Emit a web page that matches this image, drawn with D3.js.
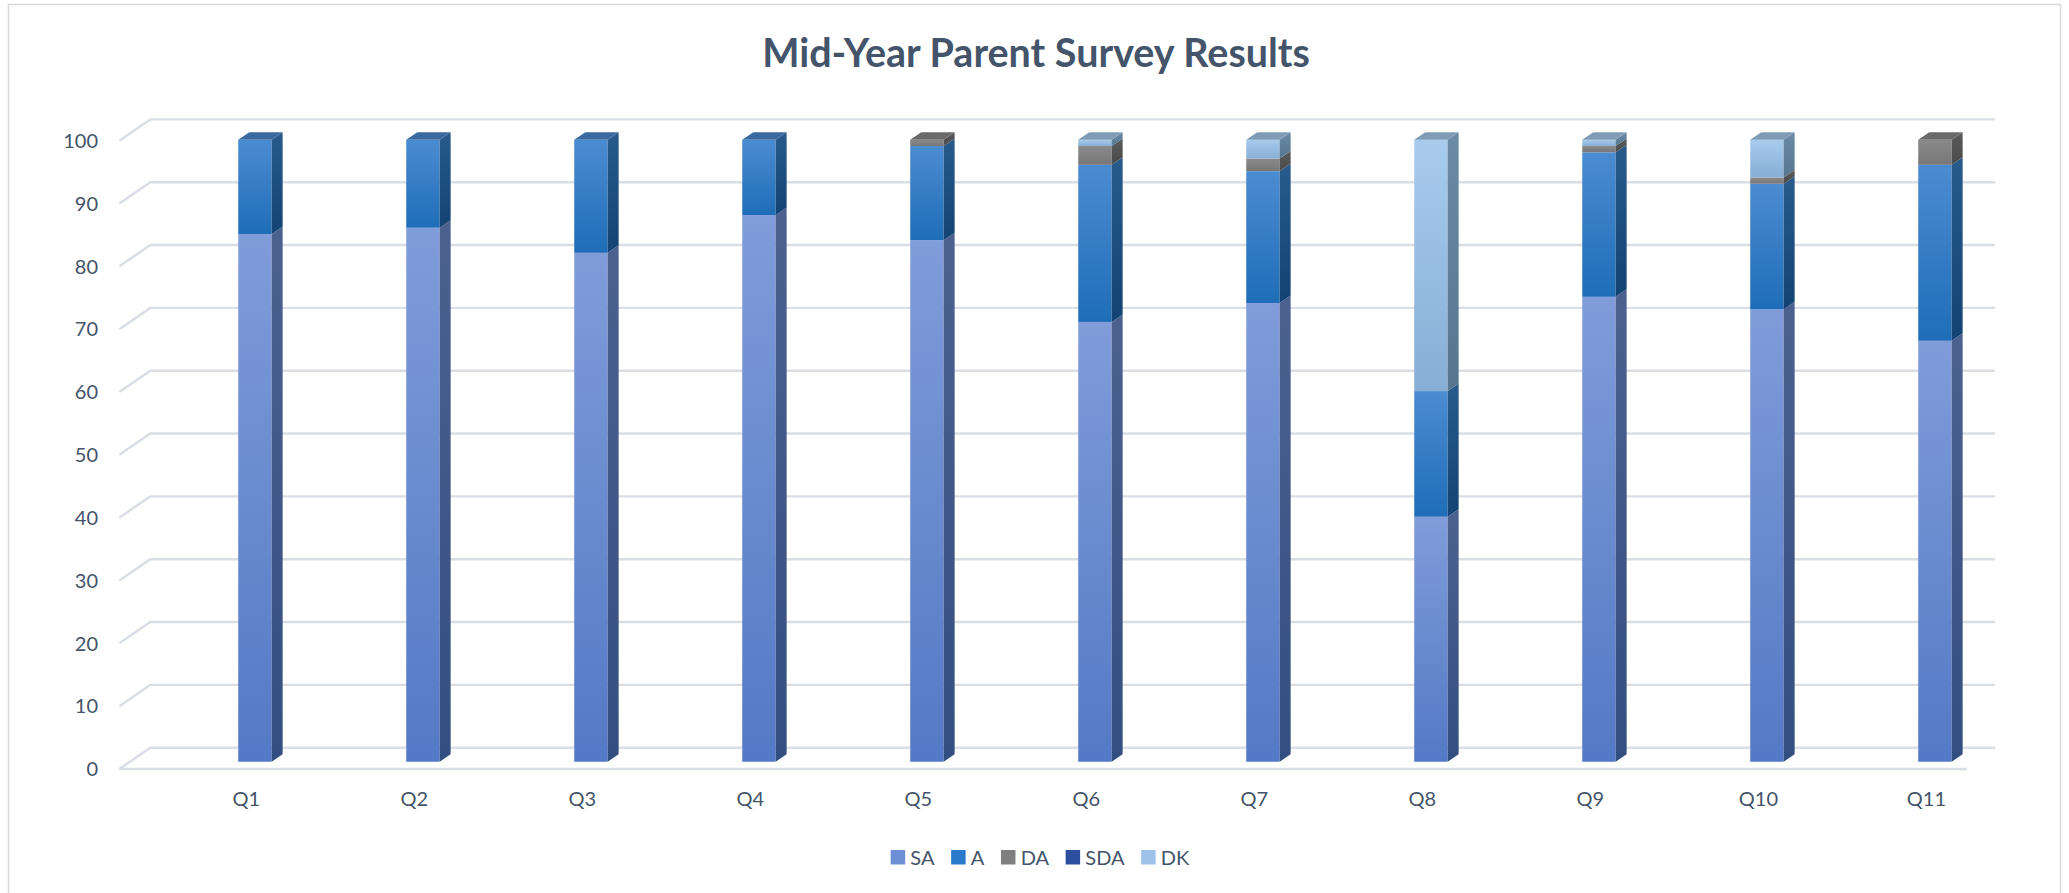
<!DOCTYPE html>
<html>
<head>
<meta charset="utf-8">
<script src="https://cdn.jsdelivr.net/npm/d3@7"></script>
<style>
  html, body { margin: 0; padding: 0; background: #ffffff; }
  svg { display: block; }
  text { font-family: "Lato", "Open Sans", "Liberation Sans", sans-serif; }
</style>
</head>
<body>
<svg id="chart" width="2069" height="893"></svg>
<script>
// ---------------- data ----------------
const categories = ["Q1","Q2","Q3","Q4","Q5","Q6","Q7","Q8","Q9","Q10","Q11"];
const seriesKeys = ["SA","A","DA","SDA","DK"];
const valuesSA  = [84, 85, 81, 87, 83, 70, 73, 39, 74, 72, 67];
const valuesA   = [15, 14, 18, 12, 15, 25, 21, 20, 23, 20, 28];
const valuesDA  = [ 0,  0,  0,  0,  1,  3,  2,  0,  1,  1,  4];
const valuesSDA = [ 0,  0,  0,  0,  0,  0,  0,  0,  0,  0,  0];
const valuesDK  = [ 0,  0,  0,  0,  0,  1,  3, 40,  1,  6,  0];
const yTicks = [0,10,20,30,40,50,60,70,80,90,100];
const titleText = "Mid-Year Parent Survey Results";

// table built from the arrays
const table = categories.map((c, i) => ({
  cat: c, SA: valuesSA[i], A: valuesA[i], DA: valuesDA[i], SDA: valuesSDA[i], DK: valuesDK[i]
}));

// ---------------- styles ----------------
const style = {
  SA:  { front: ["#809cd9", "#5479c6"], side: ["#4c6190", "#334e80"], top: "#5c74a8", legend: "#6d8fd6" },
  A:   { front: ["#4b8cd2", "#1f6db8"], side: ["#285a8c", "#124373"], top: "#3a6aa0", legend: "#2a7acc" },
  DA:  { front: ["#8a8a8a", "#777777"], side: ["#5a5a5a", "#4a4a4a"], top: "#6a6a6a", legend: "#7f7f7f" },
  SDA: { front: ["#3558a8", "#264590"], side: ["#1f3466", "#172a55"], top: "#2a4680", legend: "#2d4f9f" },
  DK:  { front: ["#a8cbed", "#88aed6"], side: ["#6b8aa6", "#56758f"], top: "#7f9bb5", legend: "#9fc3e8" }
};
const textColor = "#44546a";
const gridColor = "#d9dde4";

// ---------------- layout ----------------
const plotLeft = 119.3, plotRight = 1967;      // front floor edge
const depth = { dx: 31, dy: -21.3 };            // full depth vector of the 3D box
const barFront = 0.34, barDepth = 0.355;        // bar position in depth fractions
const barWidth = 33.4;

const svg = d3.select("#chart");
const defs = svg.append("defs");

const y = d3.scaleLinear().domain([0, 100]).range([769, 140.7]);
const x = d3.scaleBand().domain(categories).range([160.4, 2008.4]).padding(0);

// gradients
seriesKeys.forEach(k => {
  ["front", "side"].forEach(face => {
    const g = defs.append("linearGradient").attr("id", `g-${k}-${face}`)
      .attr("x1", 0).attr("y1", 0).attr("x2", 0).attr("y2", 1);
    g.append("stop").attr("offset", "0%").attr("stop-color", style[k][face][0]);
    g.append("stop").attr("offset", "100%").attr("stop-color", style[k][face][1]);
  });
});

// chart border
svg.append("rect").attr("x", 8.5).attr("y", 4.5).attr("width", 2052).attr("height", 905)
  .attr("fill", "none").attr("stroke", "#d9d9d9").attr("stroke-width", 1.5);

// title
const title = svg.append("text").attr("x", 1036).attr("y", 66.7)
  .attr("text-anchor", "middle").attr("fill", textColor)
  .attr("font-weight", 700).attr("font-size", 36).text(titleText);
(function fit() {
  const target = 548;
  const w = title.node().getComputedTextLength();
  if (w > 0) title.attr("font-size", 36 * target / w);
})();

// gridlines (walls of the 3D box)
const grid = svg.append("g");
yTicks.forEach(v => {
  const yf = y(v), yb = y(v) + depth.dy;
  grid.append("path")
    .attr("d", `M${plotLeft},${yf}L${plotLeft + depth.dx},${yb}L${plotRight + depth.dx - 3},${yb}`)
    .attr("fill", "none").attr("stroke", gridColor).attr("stroke-width", 2.4);
});
grid.append("line").attr("x1", plotLeft).attr("x2", plotRight)
  .attr("y1", y(0)).attr("y2", y(0)).attr("stroke", gridColor).attr("stroke-width", 2.4);

// y-axis labels
svg.append("g").selectAll("text").data(yTicks).join("text")
  .attr("x", 98).attr("y", d => y(d)).attr("dy", "0.36em")
  .attr("text-anchor", "end").attr("fill", textColor).attr("font-size", 20)
  .text(d => d);

// x-axis labels
svg.append("g").selectAll("text").data(categories).join("text")
  .attr("x", d => x(d) + x.bandwidth() / 2 + 2).attr("y", 806)
  .attr("text-anchor", "middle").attr("fill", textColor).attr("font-size", 20)
  .text(d => d);

// stacked 3D bars
const stack = d3.stack().keys(seriesKeys)(table);
const fx0 = depth.dx * barFront, fy0 = depth.dy * barFront;
const bx = depth.dx * barDepth, by = depth.dy * barDepth;

const bars = svg.append("g");
categories.forEach((c, i) => {
  const cx = x(c) + x.bandwidth() / 2;       // centre on the front plane
  const left = cx - barWidth / 2 + fx0, right = left + barWidth;
  let lastKey = null, lastTop = null;
  stack.forEach(s => {
    const k = s.key;
    const [v0, v1] = s[i];
    if (v1 - v0 <= 0) return;
    const yb = y(v0) + fy0, yt = y(v1) + fy0;
    bars.append("rect").attr("x", left).attr("y", yt).attr("width", barWidth)
      .attr("height", yb - yt).attr("fill", `url(#g-${k}-front)`);
    bars.append("path")
      .attr("d", `M${right},${yb}L${right + bx},${yb + by}L${right + bx},${yt + by}L${right},${yt}Z`)
      .attr("fill", `url(#g-${k}-side)`);
    lastKey = k; lastTop = yt;
  });
  if (lastKey) {
    bars.append("path")
      .attr("d", `M${left},${lastTop}L${left + bx},${lastTop + by}L${right + bx},${lastTop + by}L${right},${lastTop}Z`)
      .attr("fill", style[lastKey].top);
  }
});

// legend
const legend = svg.append("g");
const items = [];
let lx = 0;
seriesKeys.forEach(k => {
  const g = legend.append("g");
  g.append("rect").attr("x", 0).attr("y", -14.5).attr("width", 14.5).attr("height", 14.5)
    .attr("fill", style[k].legend);
  const t = g.append("text").attr("x", 19.7).attr("y", 0).attr("fill", textColor)
    .attr("font-size", 20).text(k);
  const w = 19.7 + t.node().getComputedTextLength();
  items.push({ g, x: lx });
  lx += w + 16.6;
});
const totalW = lx - 16.6;
const startX = 1040 - totalW / 2;
items.forEach(it => it.g.attr("transform", `translate(${startX + it.x},864.5)`));
</script>
</body>
</html>
